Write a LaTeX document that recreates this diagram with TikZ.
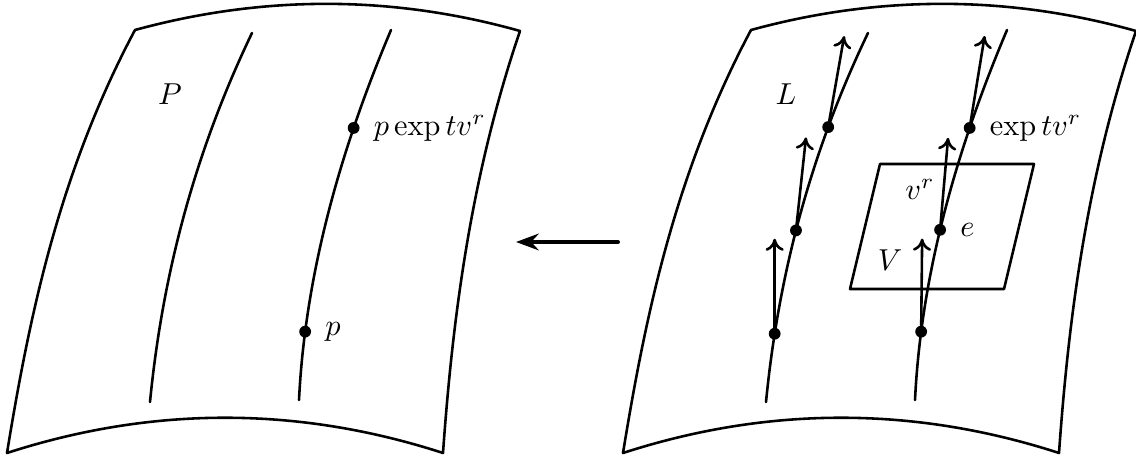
\documentclass[tikz,border=0pt]{standalone}
\usetikzlibrary{arrows.meta,positioning}
\begin{document}
\begin{tikzpicture}[line cap=round,line join=round,x=0.33pt,y=-0.33pt,
		edge/.style={line width=0.85pt},
		vec/.style={line width=0.85pt,-{To[length=4pt,width=6pt]}},
		bigarrow/.style={line width=1.3pt,-{Stealth[length=7.5pt,width=5.5pt,inset=2.5pt]}},
		dot/.style={circle,fill,inner sep=0pt,minimum size=3.9pt}]
		\useasboundingbox (0,0) rectangle (1136,460);
		
		% the two sheets with their fibres
		\foreach \s/\n in {0/P,616/L}{
			\begin{scope}[shift={(\s,0)}]
				\draw[edge] (135,30) .. controls (263,-5) and (392,-5) .. (520,31)
					.. controls (472,172) and (453,312) .. (443,453)
					.. controls (298,406) and (152,406) .. (7,453)
					.. controls (30,312) and (60,171) .. (135,30) -- cycle;
				\draw[edge] (252,33) .. controls (193,156) and (162,279) .. (150,402)
					coordinate[pos=0.255] (\n-a3) coordinate[pos=0.535] (\n-a2) coordinate[pos=0.815] (\n-a1);
				\draw[edge] (391,30) .. controls (339,153) and (305,277) .. (299,400)
					coordinate[pos=0.265] (\n-b3) coordinate[pos=0.54] (\n-b2) coordinate[pos=0.815] (\n-b1);
				\node (\n) at (170,94) {$\n$};
			\end{scope}
		}
		
		% the map
		\coordinate (mapfrom) at (618,242);
		\coordinate (mapto) at (516,242);
		\draw[bigarrow] (mapfrom) -- (mapto);
		
		% left sheet
		\node[dot] (p) at (P-b1) {};
		\node[dot] (pexp) at (P-b3) {};
		\node[right=1pt of p] (plabel) {$p$};
		\node[right=1pt of pexp] (pexplabel) {$p\exp tv^r$};
		
		% right sheet
		\coordinate (V1) at (880,164);
		\coordinate (V2) at (1034,164);
		\coordinate (V3) at (1004,289);
		\coordinate (V4) at (850,289);
		\draw[edge] (V1) -- (V2) -- (V3) -- (V4) -- cycle;
		
		\foreach \d/\dx/\dy in {L-a1/0/-95,L-a2/10/-93,L-a3/16/-91,L-b1/1/-93,L-b2/8/-92,L-b3/15/-92}{
			\path (\d) ++(\dx,\dy) coordinate (\d-tip);
			\draw[vec] (\d) -- (\d-tip);
			\node[dot] (\d-dot) at (\d) {};
		}
		
		\node[right=1pt of L-b2-dot] (elabel) {$e$};
		\node[right=1pt of L-b3-dot] (explabel) {$\exp tv^r$};
		\node (vlabel) at (920,189) {$v^r$};
		\node (Vlabel) at (890,260) {$V$};
	\end{tikzpicture}
\end{document}
